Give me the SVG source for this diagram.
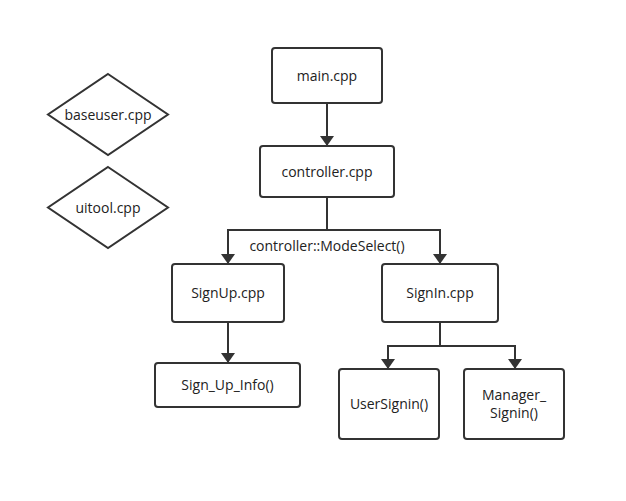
<svg xmlns="http://www.w3.org/2000/svg" width="626" height="501" viewBox="0 0 626 501">
  <style>
    .box { fill: #ffffff; stroke: #333333; stroke-width: 2; }
    .lbl { font-family: "Open Sans", "Noto Sans", "DejaVu Sans", sans-serif; font-size: 14px; fill: #222222; text-anchor: middle; }
    .wire { fill: none; stroke: #333333; stroke-width: 2; }
  </style>
  <defs>
    <marker id="arrow" viewBox="0 0 10 14" refX="10" refY="7" markerWidth="10" markerHeight="14" markerUnits="userSpaceOnUse" orient="auto">
      <path d="M0,0 L10,7 L0,14 Z" fill="#333333"/>
    </marker>
  </defs>
  <rect width="626" height="501" fill="#ffffff"/>

  <g id="connectors">
    <line class="wire" x1="327" y1="103" x2="327" y2="146" marker-end="url(#arrow)"/>
    <path class="wire" d="M327,197 V230 H228 V264" marker-end="url(#arrow)"/>
    <path class="wire" d="M327,230 H440 V264" marker-end="url(#arrow)"/>
    <line class="wire" x1="228" y1="322" x2="228" y2="363" marker-end="url(#arrow)"/>
    <path class="wire" d="M440,322 V346 H388 V369" marker-end="url(#arrow)"/>
    <path class="wire" d="M440,346 H515 V369" marker-end="url(#arrow)"/>
    <text class="lbl" x="327" y="251">controller::ModeSelect()</text>
  </g>

  <g id="baseuser">
    <polygon class="box" points="108,74 168,114.5 108,155 48,114.5"/>
    <text class="lbl" x="108" y="119.5">baseuser.cpp</text>
  </g>
  <g id="uitool">
    <polygon class="box" points="108,167 168,207.5 108,248 48,207.5"/>
    <text class="lbl" x="108" y="212.5">uitool.cpp</text>
  </g>
  <g id="main">
    <rect class="box" x="272" y="48" width="110" height="55" rx="3"/>
    <text class="lbl" x="327" y="80.5">main.cpp</text>
  </g>
  <g id="controller">
    <rect class="box" x="260" y="146" width="134" height="51" rx="3"/>
    <text class="lbl" x="327" y="176.5">controller.cpp</text>
  </g>
  <g id="signup">
    <rect class="box" x="172" y="264" width="112" height="58" rx="3"/>
    <text class="lbl" x="228" y="298">SignUp.cpp</text>
  </g>
  <g id="signin">
    <rect class="box" x="382" y="264" width="116" height="58" rx="3"/>
    <text class="lbl" x="440" y="298">SignIn.cpp</text>
  </g>
  <g id="signupinfo">
    <rect class="box" x="155" y="363" width="145" height="44" rx="3"/>
    <text class="lbl" x="227.5" y="390">Sign_Up_Info()</text>
  </g>
  <g id="usersignin">
    <rect class="box" x="339" y="369" width="100" height="70" rx="3"/>
    <text class="lbl" x="389" y="409">UserSignin()</text>
  </g>
  <g id="managersignin">
    <rect class="box" x="464" y="369" width="100" height="70" rx="3"/>
    <text class="lbl" x="514" y="400">Manager_</text>
    <text class="lbl" x="514" y="418">Signin()</text>
  </g>
</svg>
